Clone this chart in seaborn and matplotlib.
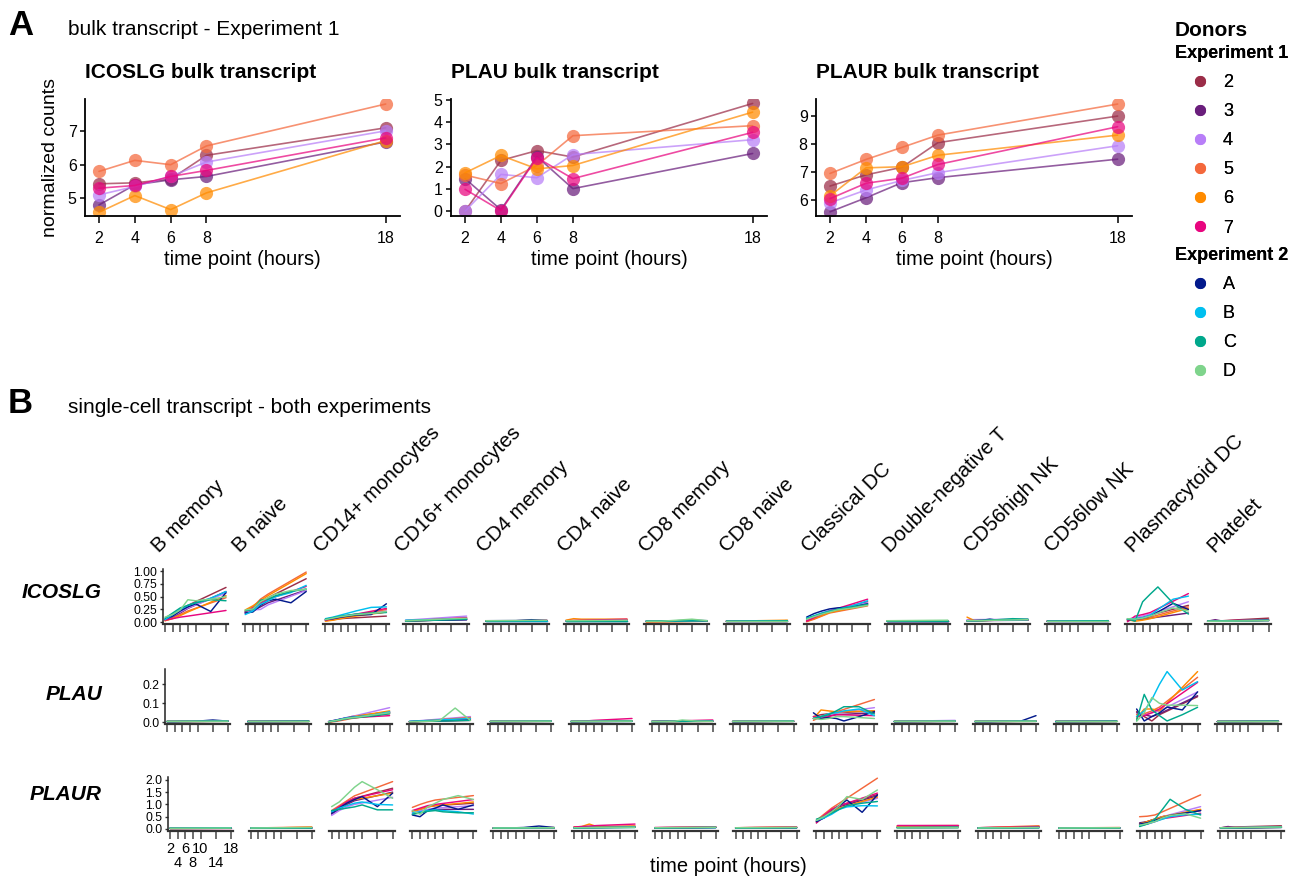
import numpy as np
import pandas as pd
import matplotlib
matplotlib.use("Agg")
import matplotlib.pyplot as plt
import seaborn as sns
from matplotlib.lines import Line2D

sns.set_style("ticks")
plt.rcParams["font.family"] = ["Liberation Sans", "DejaVu Sans"]
plt.rcParams["text.color"] = "black"
plt.rcParams["axes.labelcolor"] = "black"
plt.rcParams["xtick.color"] = "black"
plt.rcParams["ytick.color"] = "black"

# donors and colours
exp1_donors = ["2", "3", "4", "5", "6", "7"]
exp2_donors = ["A", "B", "C", "D"]
donor_colors = {"2": "#9B2D48", "3": "#6A1E7C", "4": "#B87EF8", "5": "#F4683C",
                "6": "#FF8B00", "7": "#E8067F", "A": "#031A8C", "B": "#00BFEF",
                "C": "#00A88C", "D": "#7FD48C"}

## bulk transcript (experiment 1)
bulk_times = [2, 4, 6, 8, 18]
icoslg_bulk = {"2": [5.43, 5.46, 5.57, 6.28, 7.10],
               "3": [4.80, 5.40, 5.55, 5.65, 6.68],
               "4": [5.10, 5.35, 5.65, 6.08, 7.01],
               "5": [5.80, 6.13, 6.00, 6.56, 7.81],
               "6": [4.58, 5.08, 4.66, 5.16, 6.72],
               "7": [5.30, 5.38, 5.65, 5.83, 6.80]}
plau_bulk = {"2": [0.00, 2.28, 2.72, 2.43, 4.84],
             "3": [1.46, 0.06, 2.45, 1.01, 2.59],
             "4": [0.00, 1.65, 1.50, 2.54, 3.21],
             "5": [1.62, 1.24, 2.05, 3.39, 3.84],
             "6": [1.72, 2.50, 1.90, 2.05, 4.45],
             "7": [0.98, 0.02, 2.40, 1.46, 3.54]}
plaur_bulk = {"2": [6.50, 6.90, 7.17, 8.05, 9.00],
              "3": [5.58, 6.08, 6.62, 6.80, 7.46],
              "4": [5.90, 6.36, 6.70, 6.98, 7.94],
              "5": [6.95, 7.45, 7.88, 8.32, 9.43],
              "6": [6.15, 7.15, 7.19, 7.60, 8.32],
              "7": [6.05, 6.60, 6.78, 7.27, 8.62]}

## single-cell transcript (both experiments)
cell_types = ["B memory", "B naive", "CD14+ monocytes", "CD16+ monocytes", "CD4 memory",
              "CD4 naive", "CD8 memory", "CD8 naive", "Classical DC", "Double-negative T",
              "CD56high NK", "CD56low NK", "Plasmacytoid DC", "Platelet"]
sc_donors = exp1_donors + exp2_donors
# measured time points, looked up by number of values in a series
sc_times = {2: [2, 18], 5: [2, 4, 6, 8, 18], 7: [2, 4, 6, 8, 10, 14, 18]}
# tick labels are staggered on two lines
sc_ticks_top = [2, 6, 10, 18]
sc_ticks_low = [4, 8, 14]

# series order per cell type: donors 2,3,4,5,6,7,A,B,C,D
icoslg_sc = {
    "B memory": [[0.05, 0.12, 0.22, 0.33, 0.68], [0.04, 0.10, 0.18, 0.27, 0.60],
                 [0.06, 0.12, 0.20, 0.28, 0.57], [0.03, 0.08, 0.15, 0.22, 0.48],
                 [0.03, 0.07, 0.13, 0.20, 0.52], [0.04, 0.07, 0.10, 0.12, 0.23],
                 [0.06, 0.12, 0.22, 0.30, 0.36, 0.21, 0.58], [0.05, 0.15, 0.25, 0.33, 0.38, 0.47, 0.60],
                 [0.08, 0.18, 0.28, 0.33, 0.38, 0.44, 0.42], [0.10, 0.15, 0.24, 0.44, 0.42, 0.45, 0.50]],
    "B naive": [[0.20, 0.26, 0.38, 0.48, 0.85], [0.18, 0.22, 0.30, 0.38, 0.63],
                [0.19, 0.24, 0.25, 0.34, 0.62], [0.22, 0.30, 0.45, 0.55, 0.98],
                [0.24, 0.32, 0.42, 0.52, 0.95], [0.20, 0.28, 0.36, 0.45, 0.70],
                [0.18, 0.20, 0.33, 0.42, 0.45, 0.38, 0.60], [0.15, 0.22, 0.35, 0.42, 0.50, 0.58, 0.72],
                [0.22, 0.25, 0.43, 0.45, 0.52, 0.60, 0.65], [0.24, 0.26, 0.40, 0.48, 0.55, 0.62, 0.64]],
    "CD14+ monocytes": [[0.04, 0.05, 0.07, 0.08, 0.12], [0.05, 0.07, 0.10, 0.12, 0.20],
                        [0.05, 0.08, 0.11, 0.14, 0.22], [0.03, 0.05, 0.08, 0.11, 0.25],
                        [0.02, 0.04, 0.07, 0.10, 0.20], [0.04, 0.07, 0.10, 0.13, 0.27],
                        [0.05, 0.07, 0.10, 0.12, 0.14, 0.15, 0.36], [0.07, 0.10, 0.14, 0.18, 0.22, 0.29, 0.30],
                        [0.06, 0.09, 0.12, 0.14, 0.16, 0.18, 0.19], [0.05, 0.08, 0.11, 0.13, 0.15, 0.17, 0.21]],
    "CD16+ monocytes": [[0.02, 0.06], [0.03, 0.05], [0.04, 0.12], [0.02, 0.07], [0.03, 0.08],
                        [0.02, 0.09], [0.03, 0.05], [0.04, 0.07], [0.02, 0.06], [0.03, 0.08]],
    "CD4 memory": [[0.02, 0.03], [0.02, 0.02], [0.03, 0.04], [0.02, 0.03], [0.02, 0.03], [0.02, 0.04],
                   [0.02, 0.02, 0.02, 0.02, 0.03, 0.05, 0.03], [0.03, 0.03], [0.02, 0.03], [0.03, 0.04]],
    "CD4 naive": [[0.03, 0.04], [0.02, 0.03], [0.03, 0.04], [0.03, 0.05], [0.04, 0.07, 0.06, 0.06, 0.06],
                  [0.03, 0.06], [0.03, 0.03], [0.02, 0.03], [0.03, 0.03], [0.03, 0.04]],
    "CD8 memory": [[0.01, 0.02], [0.02, 0.03], [0.02, 0.03], [0.01, 0.02], [0.01, 0.02], [0.02, 0.03],
                   [0.02, 0.02, 0.02, 0.02, 0.03, 0.04, 0.03], [0.02, 0.03], [0.02, 0.03],
                   [0.02, 0.02, 0.02, 0.03, 0.04, 0.06, 0.03]],
    "CD8 naive": [[0.02, 0.03], [0.02, 0.02], [0.02, 0.03], [0.02, 0.03], [0.02, 0.04],
                  [0.02, 0.03], [0.02, 0.02], [0.02, 0.03], [0.02, 0.03], [0.03, 0.03]],
    "Classical DC": [[0.03, 0.10, 0.17, 0.22, 0.40], [0.04, 0.10, 0.16, 0.21, 0.36],
                     [0.05, 0.11, 0.18, 0.23, 0.38], [0.01, 0.06, 0.12, 0.18, 0.32],
                     [0.02, 0.07, 0.13, 0.19, 0.34], [0.02, 0.09, 0.16, 0.22, 0.45],
                     [0.10, 0.17, 0.22, 0.26, 0.28, 0.30, 0.36], [0.08, 0.13, 0.18, 0.22, 0.25, 0.32, 0.42],
                     [0.07, 0.12, 0.17, 0.21, 0.25, 0.30, 0.35], [0.06, 0.11, 0.16, 0.20, 0.24, 0.28, 0.33]],
    "Double-negative T": [[0.02, 0.03], [0.02, 0.02], [0.03, 0.03], [0.02, 0.03], [0.02, 0.03],
                          [0.02, 0.02], [0.02, 0.02], [0.02, 0.03], [0.03, 0.03], [0.03, 0.04]],
    "CD56high NK": [[0.03, 0.05], [0.03, 0.04], [0.05, 0.06], [0.03, 0.05], [0.10, 0.03, 0.03, 0.04, 0.05],
                    [0.03, 0.05], [0.03, 0.03, 0.04, 0.06, 0.04, 0.05, 0.05], [0.03, 0.05],
                    [0.03, 0.03, 0.03, 0.04, 0.05, 0.07, 0.06], [0.03, 0.05]],
    "CD56low NK": [[0.02, 0.03], [0.02, 0.03], [0.03, 0.03], [0.02, 0.03], [0.02, 0.03],
                   [0.02, 0.03], [0.02, 0.02], [0.02, 0.03], [0.02, 0.03], [0.03, 0.03]],
    "Plasmacytoid DC": [[0.05, 0.07, 0.10, 0.14, 0.33], [0.03, 0.05, 0.06, 0.08, 0.18],
                        [0.06, 0.09, 0.12, 0.16, 0.40], [0.04, 0.05, 0.07, 0.10, 0.30],
                        [0.05, 0.02, 0.04, 0.07, 0.27], [0.01, 0.12, 0.15, 0.19, 0.56],
                        [0.05, 0.06, 0.08, 0.12, 0.20, 0.37, 0.25], [0.06, 0.07, 0.09, 0.14, 0.25, 0.45, 0.51],
                        [0.07, 0.02, 0.40, 0.55, 0.69, 0.37, 0.16], [0.07, 0.06, 0.08, 0.12, 0.18, 0.28, 0.22]],
    "Platelet": [[0.02, 0.03, 0.03, 0.04, 0.08], [0.02, 0.05, 0.02, 0.03, 0.04], [0.02, 0.04],
                 [0.02, 0.04], [0.02, 0.04], [0.02, 0.05], [0.02, 0.03], [0.02, 0.04], [0.02, 0.04], [0.02, 0.03]],
}

plau_sc = {
    "B memory": [[0.004, 0.006], [0.004, 0.005], [0.005, 0.006], [0.004, 0.006], [0.004, 0.005], [0.004, 0.006],
                 [0.004, 0.004, 0.005, 0.005, 0.006, 0.012, 0.006], [0.004, 0.006], [0.004, 0.005], [0.005, 0.006]],
    "B naive": [[0.004, 0.005], [0.004, 0.005], [0.004, 0.006], [0.004, 0.005], [0.004, 0.005],
                [0.004, 0.005], [0.004, 0.005], [0.004, 0.005], [0.004, 0.005], [0.005, 0.005]],
    "CD14+ monocytes": [[0.002, 0.010, 0.020, 0.025, 0.050], [0.003, 0.010, 0.020, 0.030, 0.055],
                        [0.004, 0.012, 0.022, 0.030, 0.077], [0.000, 0.005, 0.012, 0.020, 0.045],
                        [0.002, 0.008, 0.018, 0.028, 0.060], [0.003, 0.009, 0.016, 0.024, 0.035],
                        [0.004, 0.012, 0.020, 0.027, 0.030, 0.035, 0.050], [0.003, 0.010, 0.020, 0.026, 0.030, 0.040, 0.055],
                        [0.002, 0.008, 0.016, 0.022, 0.026, 0.035, 0.045], [0.003, 0.010, 0.018, 0.024, 0.028, 0.040, 0.050]],
    "CD16+ monocytes": [[0.003, 0.010], [0.002, 0.020], [0.004, 0.030], [0.003, 0.025], [0.002, 0.020],
                        [0.003, 0.015], [0.004, 0.012], [0.005, 0.020], [0.003, 0.010],
                        [0.003, 0.004, 0.005, 0.006, 0.010, 0.075, 0.010]],
    "CD4 memory": [[0.004, 0.006], [0.004, 0.005], [0.005, 0.006], [0.004, 0.006], [0.004, 0.005],
                   [0.004, 0.006], [0.004, 0.005], [0.004, 0.006], [0.004, 0.005], [0.005, 0.006]],
    "CD4 naive": [[0.004, 0.006], [0.004, 0.005], [0.005, 0.006], [0.004, 0.008], [0.004, 0.006],
                  [0.004, 0.005, 0.007, 0.010, 0.020], [0.004, 0.005], [0.004, 0.006], [0.004, 0.005], [0.005, 0.006]],
    "CD8 memory": [[0.004, 0.006], [0.004, 0.005], [0.005, 0.006], [0.004, 0.006], [0.004, 0.005],
                   [0.004, 0.012], [0.004, 0.004, 0.005, 0.006, 0.008, 0.005, 0.006], [0.004, 0.006],
                   [0.004, 0.005], [0.004, 0.004, 0.005, 0.006, 0.012, 0.006, 0.005]],
    "CD8 naive": [[0.004, 0.006], [0.004, 0.005], [0.005, 0.006], [0.004, 0.006], [0.004, 0.005],
                  [0.004, 0.006], [0.004, 0.005], [0.004, 0.006], [0.004, 0.005], [0.005, 0.006]],
    "Classical DC": [[0.030, 0.040, 0.045, 0.050, 0.060], [0.020, 0.030, 0.035, 0.040, 0.050],
                     [0.020, 0.030, 0.040, 0.050, 0.077], [0.010, 0.030, 0.045, 0.055, 0.120],
                     [0.020, 0.065, 0.060, 0.055, 0.060], [0.030, 0.020, 0.030, 0.040, 0.035],
                     [0.050, 0.020, 0.025, 0.020, 0.007, 0.030, 0.056], [0.020, 0.030, 0.045, 0.050, 0.060, 0.070, 0.035],
                     [0.020, 0.030, 0.040, 0.060, 0.082, 0.082, 0.044], [0.020, 0.015, 0.020, 0.030, 0.030, 0.025, 0.020]],
    "Double-negative T": [[0.004, 0.006], [0.004, 0.005], [0.005, 0.010], [0.004, 0.006], [0.004, 0.005],
                          [0.004, 0.006], [0.004, 0.005], [0.004, 0.006], [0.004, 0.005], [0.005, 0.006]],
    "CD56high NK": [[0.004, 0.006], [0.004, 0.005], [0.005, 0.006], [0.004, 0.008], [0.004, 0.005],
                    [0.004, 0.006], [0.004, 0.004, 0.004, 0.005, 0.005, 0.006, 0.035], [0.004, 0.006],
                    [0.004, 0.005], [0.005, 0.006]],
    "CD56low NK": [[0.004, 0.005], [0.004, 0.005], [0.004, 0.006], [0.004, 0.005], [0.004, 0.005],
                   [0.004, 0.005], [0.004, 0.005], [0.004, 0.005], [0.004, 0.005], [0.005, 0.005]],
    "Plasmacytoid DC": [[0.056, 0.030, 0.007, 0.040, 0.135], [0.050, 0.040, 0.030, 0.045, 0.140],
                        [0.030, 0.040, 0.050, 0.060, 0.160], [0.040, 0.045, 0.060, 0.080, 0.237],
                        [0.020, 0.070, 0.070, 0.060, 0.267], [0.030, 0.035, 0.050, 0.070, 0.210],
                        [0.070, 0.007, 0.030, 0.050, 0.080, 0.065, 0.160], [0.030, 0.060, 0.120, 0.200, 0.267, 0.170, 0.214],
                        [0.010, 0.147, 0.065, 0.035, 0.007, 0.040, 0.079], [0.005, 0.050, 0.130, 0.100, 0.090, 0.090, 0.088]],
    "Platelet": [[0.004, 0.005], [0.004, 0.005], [0.004, 0.006], [0.004, 0.005], [0.004, 0.005],
                 [0.004, 0.005], [0.004, 0.005], [0.004, 0.005], [0.004, 0.005], [0.005, 0.005]],
}

plaur_sc = {
    "B memory": [[0.03, 0.04], [0.02, 0.03], [0.03, 0.04], [0.03, 0.04], [0.02, 0.03],
                 [0.03, 0.03], [0.03, 0.04], [0.03, 0.05], [0.02, 0.03], [0.03, 0.04]],
    "B naive": [[0.03, 0.05], [0.03, 0.04], [0.04, 0.05], [0.04, 0.08], [0.03, 0.07],
                [0.03, 0.05], [0.03, 0.04], [0.04, 0.05], [0.03, 0.04], [0.04, 0.06]],
    "CD14+ monocytes": [[0.65, 0.90, 1.10, 1.25, 1.66], [0.60, 0.80, 1.00, 1.15, 1.50],
                        [0.55, 0.75, 0.90, 1.00, 1.29], [0.75, 0.95, 1.15, 1.35, 1.93],
                        [0.70, 0.85, 1.05, 1.20, 1.46], [0.70, 0.90, 1.10, 1.25, 1.60],
                        [0.64, 0.85, 1.05, 1.20, 1.32, 0.91, 1.46], [0.70, 0.85, 0.95, 1.05, 1.10, 1.00, 0.98],
                        [0.75, 0.80, 0.85, 0.90, 0.98, 0.78, 0.78], [0.91, 1.10, 1.40, 1.70, 1.93, 1.60, 1.25]],
    "CD16+ monocytes": [[0.70, 0.80, 0.90, 0.95, 1.05], [0.60, 0.70, 0.75, 0.80, 0.80],
                        [0.65, 0.75, 0.80, 0.85, 0.95], [0.88, 1.00, 1.10, 1.18, 1.36],
                        [0.72, 0.80, 0.90, 0.95, 1.10], [0.75, 0.85, 0.95, 1.00, 1.20],
                        [0.57, 0.50, 0.75, 0.85, 0.98, 0.80, 0.98], [0.65, 0.70, 0.75, 0.78, 0.75, 0.70, 0.61],
                        [0.60, 0.65, 0.72, 0.75, 0.70, 0.66, 0.66], [0.75, 0.60, 0.90, 1.05, 1.20, 1.36, 1.20]],
    "CD4 memory": [[0.04, 0.05], [0.03, 0.04], [0.04, 0.05], [0.04, 0.06], [0.03, 0.05], [0.04, 0.05],
                   [0.03, 0.03, 0.04, 0.05, 0.06, 0.12, 0.06], [0.04, 0.05], [0.03, 0.05], [0.04, 0.05]],
    "CD4 naive": [[0.06, 0.10], [0.05, 0.08], [0.07, 0.12], [0.06, 0.10], [0.08, 0.10, 0.20, 0.10, 0.12],
                  [0.08, 0.10, 0.12, 0.14, 0.20], [0.05, 0.07], [0.05, 0.08], [0.04, 0.06], [0.05, 0.07]],
    "CD8 memory": [[0.05, 0.07], [0.04, 0.06], [0.05, 0.08], [0.05, 0.08], [0.05, 0.07],
                   [0.06, 0.08], [0.04, 0.06], [0.05, 0.06], [0.04, 0.06], [0.05, 0.07]],
    "CD8 naive": [[0.05, 0.06], [0.04, 0.05], [0.05, 0.07], [0.05, 0.08], [0.05, 0.07],
                  [0.05, 0.07], [0.04, 0.05], [0.04, 0.06], [0.04, 0.05], [0.05, 0.06]],
    "Classical DC": [[0.25, 0.50, 0.75, 0.95, 1.40], [0.30, 0.50, 0.70, 0.90, 1.35],
                     [0.30, 0.45, 0.65, 0.85, 1.25], [0.35, 0.60, 0.85, 1.05, 2.07],
                     [0.30, 0.50, 0.70, 0.85, 1.30], [0.25, 0.55, 0.80, 0.95, 1.46],
                     [0.30, 0.45, 0.70, 0.95, 1.18, 0.68, 1.39], [0.35, 0.45, 0.60, 0.80, 0.90, 0.95, 0.94],
                     [0.40, 0.50, 0.65, 0.80, 0.95, 1.05, 1.12], [0.35, 0.50, 0.70, 0.95, 1.32, 1.20, 1.59]],
    "Double-negative T": [[0.11, 0.12], [0.06, 0.07], [0.08, 0.10], [0.13, 0.14], [0.09, 0.10],
                          [0.15, 0.15], [0.05, 0.06], [0.06, 0.07], [0.05, 0.06], [0.04, 0.05]],
    "CD56high NK": [[0.05, 0.08], [0.04, 0.06], [0.05, 0.10], [0.05, 0.13], [0.04, 0.10],
                    [0.05, 0.09], [0.04, 0.06], [0.04, 0.06], [0.03, 0.05], [0.04, 0.06]],
    "CD56low NK": [[0.03, 0.05], [0.03, 0.04], [0.04, 0.05], [0.04, 0.06], [0.03, 0.05],
                   [0.04, 0.05], [0.03, 0.04], [0.03, 0.05], [0.03, 0.04], [0.04, 0.05]],
    "Plasmacytoid DC": [[0.20, 0.30, 0.40, 0.50, 0.78], [0.25, 0.30, 0.40, 0.50, 0.75],
                        [0.15, 0.25, 0.40, 0.50, 0.91], [0.50, 0.52, 0.57, 0.70, 1.39],
                        [0.20, 0.30, 0.40, 0.50, 0.80], [0.15, 0.20, 0.30, 0.42, 0.64],
                        [0.20, 0.25, 0.35, 0.45, 0.55, 0.65, 0.75], [0.15, 0.20, 0.30, 0.40, 0.50, 0.58, 0.60],
                        [0.10, 0.20, 0.40, 0.80, 1.21, 0.80, 0.57], [0.15, 0.22, 0.30, 0.45, 0.55, 0.62, 0.44]],
    "Platelet": [[0.05, 0.07, 0.08, 0.09, 0.13], [0.04, 0.10, 0.05, 0.06, 0.07], [0.04, 0.08],
                 [0.05, 0.09], [0.04, 0.07], [0.05, 0.08], [0.04, 0.06], [0.05, 0.08], [0.04, 0.07], [0.05, 0.08]],
}


def bulk_frame(gene_data):
    rows = [(d, t, v) for d, vals in gene_data.items() for t, v in zip(bulk_times, vals)]
    return pd.DataFrame(rows, columns=["donor", "time", "value"])


def sc_frame(series_list):
    rows = []
    for donor, vals in zip(sc_donors, series_list):
        for t, v in zip(sc_times[len(vals)], vals):
            rows.append((donor, t, v))
    return pd.DataFrame(rows, columns=["donor", "time", "value"])


W, H = 1303, 882
fig = plt.figure(figsize=(W / 100, H / 100), dpi=100)


def px_axes(l, t, r, b):
    return fig.add_axes([l / W, 1 - b / H, (r - l) / W, (b - t) / H])


def px(x, y):
    return x / W, 1 - y / H


# ---- panel A ----
fig.text(*px(8, 35), "A", fontsize=25, fontweight="bold")
fig.text(*px(68, 35), "bulk transcript - Experiment 1", fontsize=15)

bulk_specs = [("ICOSLG", icoslg_bulk, 85, 400, (4.47, 7.96), [5, 6, 7]),
              ("PLAU", plau_bulk, 451, 767, (-0.22, 5.04), [0, 1, 2, 3, 4, 5]),
              ("PLAUR", plaur_bulk, 816, 1132, (5.43, 9.61), [6, 7, 8, 9])]
for i, (gene, data, left, right, ylim, yticks) in enumerate(bulk_specs):
    ax = px_axes(left, 99, right, 216)
    sns.lineplot(data=bulk_frame(data), x="time", y="value", hue="donor",
                 palette=donor_colors, marker="o", markersize=9.5, markeredgewidth=0,
                 alpha=0.72, linewidth=1.2, errorbar=None, legend=False, ax=ax)
    ax.set_xlim(1.22, 18.8)
    ax.set_ylim(*ylim)
    ax.set_xticks(bulk_times)
    ax.set_yticks(yticks)
    sns.despine(ax=ax)
    for s in ["left", "bottom"]:
        ax.spines[s].set_linewidth(1.3)
        ax.spines[s].set_color("black")
    ax.tick_params(axis="x", length=5, width=1.1, pad=6, labelsize=11.5)
    ax.tick_params(axis="y", length=3.5, width=1.1, pad=2.5, labelsize=11.5)
    ax.set_title(f"{gene} bulk transcript", loc="left", fontsize=15,
                 fontweight="bold", pad=15)
    ax.set_xlabel("time point (hours)", fontsize=14.5, labelpad=3)
    ax.set_ylabel("normalized counts" if i == 0 else "", fontsize=14, labelpad=6)

# legend
fig.text(*px(1175, 36), "Donors", fontsize=15, fontweight="bold")
for title, donors, top in [("Experiment 1", exp1_donors, 45), ("Experiment 2", exp2_donors, 247)]:
    handles = [Line2D([], [], marker="o", ls="", color=donor_colors[d], markersize=7) for d in donors]
    leg = fig.legend(handles, donors, title=title, loc="upper left",
                     bbox_to_anchor=px(1175, top), frameon=False, fontsize=13,
                     title_fontproperties={"size": 13, "weight": "bold"},
                     alignment="left", borderpad=0, borderaxespad=0,
                     handlelength=2.75, handletextpad=-0.1, labelspacing=0.67)
    fig.add_artist(leg)

# ---- panel B ----
fig.text(*px(8, 413), "B", fontsize=25, fontweight="bold")
fig.text(*px(68, 413), "single-cell transcript - both experiments", fontsize=15)

ppu = 61 / 16
row_specs = [("ICOSLG", icoslg_sc, 165, 80.2, 569, 624.3, (-0.04, 1.04),
              [0, 0.25, 0.5, 0.75, 1.0], ["0.00", "0.25", "0.50", "0.75", "1.00"], 593),
             ("PLAU", plau_sc, 167, 80.8, 669.3, 724, (-0.009, 0.279),
              [0, 0.1, 0.2], ["0.0", "0.1", "0.2"], 694),
             ("PLAUR", plaur_sc, 170, 80.8, 776.7, 830.7, (-0.07, 2.13),
              [0, 0.5, 1, 1.5, 2], ["0.0", "0.5", "1.0", "1.5", "2.0"], 795)]

for r, (gene, data, x0, pitch, top, bottom, ylim, yticks, ylabels, ymid) in enumerate(row_specs):
    fig.text(*px(102, ymid), gene, fontsize=15, fontweight="bold", fontstyle="italic",
             ha="right", va="center")
    for c, ct in enumerate(cell_types):
        xs = x0 + pitch * c
        ax = px_axes(xs - 0.6 * ppu, top, xs + 16.6 * ppu, bottom)
        sns.lineplot(data=sc_frame(data[ct]), x="time", y="value", hue="donor",
                     palette=donor_colors, linewidth=1.05, errorbar=None,
                     legend=False, ax=ax)
        ax.set_xlim(1.4, 18.6)
        ax.set_ylim(*ylim)
        ax.set_xticks(sc_ticks_top)
        ax.set_xticks(sc_ticks_low, minor=True)
        if r == 2 and c == 0:
            ax.set_xticklabels([str(t) for t in sc_ticks_top], fontsize=10.5)
            ax.set_xticklabels([str(t) for t in sc_ticks_low], minor=True, fontsize=10.5)
            ax.tick_params(axis="x", which="major", pad=2)
            ax.tick_params(axis="x", which="minor", pad=12)
        else:
            ax.set_xticklabels([])
            ax.set_xticklabels([], minor=True)
        ax.set_xlabel("")
        ax.set_ylabel("")
        ax.spines["top"].set_visible(False)
        ax.spines["right"].set_visible(False)
        ax.spines["bottom"].set_linewidth(1.6)
        ax.spines["bottom"].set_color("#333333")
        ax.tick_params(axis="x", which="both", length=6, width=1.2, color="#555555")
        if c == 0:
            ax.set_yticks(yticks)
            ax.set_yticklabels(ylabels, fontsize=8.7)
            ax.spines["left"].set_linewidth(1.1)
            ax.spines["left"].set_color("#222222")
            ax.tick_params(axis="y", length=2.5, width=1, pad=1.5, color="#333333")
        else:
            ax.spines["left"].set_visible(False)
            ax.set_yticks([])
        ax.tick_params(axis="y", which="minor", left=False)
        if r == 0:
            fig.text(*px(159 + 81.2 * c, 553), ct, rotation=45, rotation_mode="anchor",
                     ha="left", va="baseline", fontsize=14.8)

fig.text(*px(728, 872), "time point (hours)", fontsize=14.5, ha="center")

fig.savefig("out.png", dpi=100)
